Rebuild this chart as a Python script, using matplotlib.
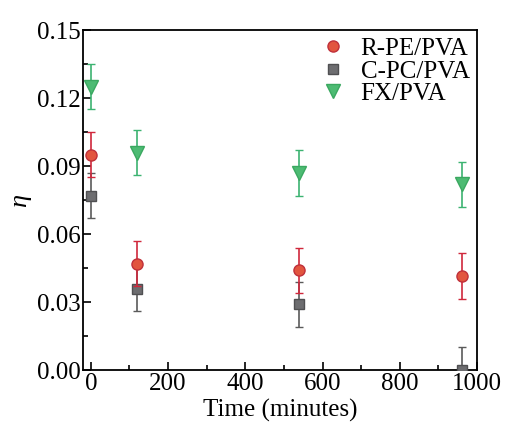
import numpy as np
import matplotlib
matplotlib.use('Agg')
import matplotlib.pyplot as plt
from matplotlib.ticker import MultipleLocator

plt.rcParams['font.family'] = ['Liberation Serif', 'DejaVu Serif']

time = [0, 120, 540, 960]

rpe = [0.095, 0.047, 0.044, 0.0415]
rpe_err = [0.010, 0.010, 0.010, 0.010]

cpc = [0.077, 0.036, 0.029, 0.0]
cpc_err = [0.010, 0.010, 0.010, 0.010]

fx = [0.125, 0.096, 0.087, 0.082]
fx_err = [0.010, 0.010, 0.010, 0.010]

fig = plt.figure(figsize=(5.07, 4.24), dpi=100)
ax = fig.add_axes([0.164, 0.127, 0.777, 0.802])

ax.errorbar(time, fx, yerr=fx_err, fmt='v', ms=10.5, color='#4dbb73',
            mec='#3aa860', ecolor='#3cb371', elinewidth=1.2, capsize=3,
            label='FX/PVA', zorder=3)
ax.errorbar(time, cpc, yerr=cpc_err, fmt='s', ms=7.5, color='#6d6d70',
            mec='#505052', ecolor='#5a5a5a', elinewidth=1.2, capsize=3,
            label='C-PC/PVA', zorder=4)
ax.errorbar(time, rpe, yerr=rpe_err, fmt='o', ms=8, color='#e2553f',
            mec='#c0303a', ecolor='#d0283c', elinewidth=1.2, capsize=3,
            label='R-PE/PVA', zorder=5)

ax.set_xlim(-20, 1000)
ax.set_ylim(0, 0.15)
ax.xaxis.set_major_locator(MultipleLocator(200))
ax.xaxis.set_minor_locator(MultipleLocator(100))
ax.yaxis.set_major_locator(MultipleLocator(0.03))
ax.yaxis.set_minor_locator(MultipleLocator(0.015))
ax.yaxis.set_major_formatter(matplotlib.ticker.FormatStrFormatter('%.2f'))
ax.tick_params(which='both', direction='in', labelsize=18, width=1.2)
ax.tick_params(which='major', length=6, pad=2)
ax.tick_params(which='minor', length=3.5)
for s in ax.spines.values():
    s.set_linewidth(1.3)

ax.set_xlabel('Time (minutes)', fontsize=18, labelpad=3)
ax.set_ylabel('η', fontsize=19, fontstyle='italic', labelpad=4)

handles, labels = ax.get_legend_handles_labels()
order = [2, 1, 0]
ax.legend([handles[i][0] for i in order], [labels[i] for i in order],
          loc='upper right', frameon=False, fontsize=18, handletextpad=0.5,
          labelspacing=0.0, borderaxespad=0.0, handlelength=1.2,
          borderpad=0.3)

fig.savefig('out.png', dpi=100)
